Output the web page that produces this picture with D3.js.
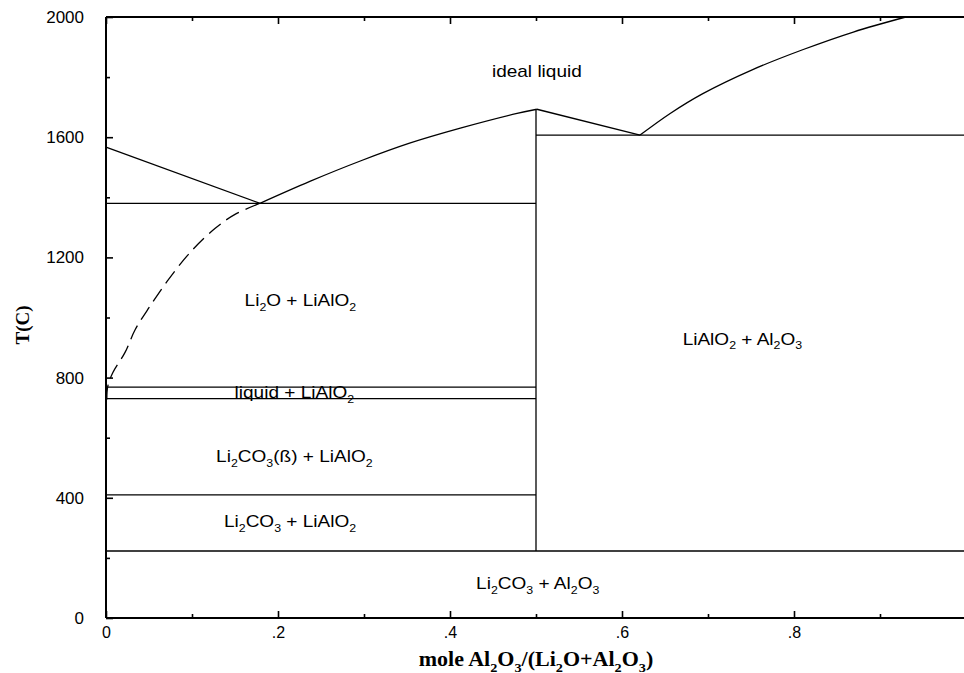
<!DOCTYPE html>
<head>
  <meta charset="utf-8">
  <script src="https://cdn.jsdelivr.net/npm/d3@7"></script>
  <style>
    body { margin: 0; background: #fff; }
    svg { display: block; }
  </style>
</head>
<body>
  <svg width="964" height="673"></svg>
  <script>
    // axis ticks
    const xMajor = [0, 0.2, 0.4, 0.6, 0.8];
    const xMajorLabels = ["0", ".2", ".4", ".6", ".8"];
    const xMinor = [0.1, 0.3, 0.5, 0.7, 0.9];
    const yMajor = [0, 400, 800, 1200, 1600, 2000];
    const yMinor = [200, 600, 1000, 1400, 1800];

    // phase boundaries [x, T]
    const liqLeft = [[0, 1567], [0.179, 1380]];
    const liqMid = [[0.179, 1380], [0.237, 1453], [0.295, 1520], [0.353, 1580], [0.412, 1630], [0.478, 1679], [0.501, 1693]];
    const liqDip = [[0.501, 1693], [0.621, 1607]];
    const liqRight = [[0.621, 1607], [0.656, 1679], [0.694, 1745], [0.752, 1825], [0.810, 1891], [0.869, 1950], [0.93, 2000]];
    const solubility = [[0.001, 727], [0.002, 770], [0.008, 817], [0.022, 883], [0.034, 960], [0.051, 1037], [0.071, 1120], [0.098, 1217], [0.127, 1297], [0.150, 1343], [0.179, 1380]];

    // isotherms: from x, to x, T
    const isoFrom = [0, 0.5, 0, 0, 0, 0];
    const isoTo = [0.5, 1, 0.5, 0.5, 0.5, 1];
    const isoT = [1380, 1607, 768, 730, 410, 223];
    // vertical line at LiAlO2
    const vertX = 0.5;
    const vertT = [223, 1693];

    // region labels ("_" marks a subscript char)
    const regionText = ["ideal liquid", "Li_2O + LiAlO_2", "LiAlO_2 + Al_2O_3", "liquid + LiAlO_2", "Li_2CO_3(ß) + LiAlO_2", "Li_2CO_3 + LiAlO_2", "Li_2CO_3 + Al_2O_3"];
    const regionX = [0.501, 0.226, 0.74, 0.219, 0.219, 0.214, 0.502];
    const regionT = [1800, 1037, 910, 733, 520, 303, 97];

    const width = 964, height = 673;
    const margin = {top: 17, bottom: 55, left: 106, right: -2};

    const x = d3.scaleLinear().domain([0, 1]).range([margin.left, width - margin.right]);
    const y = d3.scaleLinear().domain([0, 2000]).range([height - margin.bottom, margin.top]);

    const svg = d3.select('svg');
    const font = "'Liberation Sans', Arial, sans-serif";
    const serif = "'Liberation Serif', 'Times New Roman', serif";

    // text with subscripts, no empty tspans
    function richText(sel, str, size) {
      const parts = str.split(/(_.)/).filter(p => p);
      let shift = 0;
      parts.forEach(p => {
        const sub = p[0] === '_';
        const target = sub ? size * 0.28 : 0;
        sel.append('tspan')
          .attr('dy', target - shift)
          .attr('font-size', sub ? size * 0.65 : size)
          .text(sub ? p[1] : p);
        shift = target;
      });
    }

    // frame
    svg.append('g')
      .selectAll('line')
      .data([[0, 0, 0, 2000], [0, 0, 1, 0], [0, 2000, 1, 2000]])
      .join('line')
      .attr('x1', d => x(d[0])).attr('y1', d => y(d[1]))
      .attr('x2', d => x(d[2])).attr('y2', d => y(d[3]))
      .attr('stroke', '#000').attr('stroke-width', 2);

    // axes, ticks pointing in
    const xAxis = svg.append('g')
      .attr('transform', 'translate(0,' + y(0) + ')')
      .call(d3.axisBottom(x).tickValues(xMajor).tickSize(-7).tickPadding(9)
        .tickFormat((d, i) => xMajorLabels[i]));
    svg.append('g')
      .attr('transform', 'translate(0,' + y(0) + ')')
      .call(d3.axisBottom(x).tickValues(xMinor).tickSize(-4).tickFormat(''));
    svg.append('g')
      .attr('transform', 'translate(0,' + y(2000) + ')')
      .call(d3.axisTop(x).tickValues(xMajor).tickSize(-7).tickFormat(''));
    svg.append('g')
      .attr('transform', 'translate(0,' + y(2000) + ')')
      .call(d3.axisTop(x).tickValues(xMinor).tickSize(-4).tickFormat(''));
    const yAxis = svg.append('g')
      .attr('transform', 'translate(' + x(0) + ',0)')
      .call(d3.axisLeft(y).tickValues(yMajor).tickSize(-7).tickPadding(22).tickFormat(d3.format('d')));
    svg.append('g')
      .attr('transform', 'translate(' + x(0) + ',0)')
      .call(d3.axisLeft(y).tickValues(yMinor).tickSize(-4).tickFormat(''));

    svg.selectAll('.domain').remove();
    svg.selectAll('.tick line').attr('stroke', '#000').attr('stroke-width', 1.6);
    svg.selectAll('.tick text').attr('font-family', font).attr('fill', '#000');
    xAxis.selectAll('text').attr('font-size', 16);
    yAxis.selectAll('text').attr('font-size', 17);

    // phase lines
    const line = d3.line().x(d => x(d[0])).y(d => y(d[1]));
    const curve = d3.line().x(d => x(d[0])).y(d => y(d[1])).curve(d3.curveCatmullRom);

    svg.append('path').attr('d', line(liqLeft));
    svg.append('path').attr('d', curve(liqMid));
    svg.append('path').attr('d', line(liqDip));
    svg.append('path').attr('d', curve(liqRight));
    svg.append('path').attr('d', curve(solubility)).attr('stroke-dasharray', '15,7');

    isoT.forEach((t, i) => {
      svg.append('path').attr('d', line([[isoFrom[i], t], [isoTo[i], t]]));
    });
    svg.append('path').attr('d', line([[vertX, vertT[0]], [vertX, vertT[1]]]));

    svg.selectAll('path:not(.domain)')
      .attr('fill', 'none').attr('stroke', '#000').attr('stroke-width', 1.3);

    // region labels
    regionText.forEach((s, i) => {
      const t = svg.append('text')
        .attr('transform', 'translate(' + x(regionX[i]) + ',' + y(regionT[i]) + ') scale(1.12,1)')
        .attr('text-anchor', 'middle')
        .attr('font-family', font)
        .attr('font-size', 17)
        .attr('fill', '#000');
      richText(t, s, 17);
    });

    // axis titles
    const xt = svg.append('text')
      .attr('transform', 'translate(' + x(0.5) + ',666) scale(1.1,1)')
      .attr('text-anchor', 'middle')
      .attr('font-family', serif).attr('font-weight', 'bold').attr('font-size', 20);
    richText(xt, 'mole Al_2O_3/(Li_2O+Al_2O_3)', 20);

    svg.append('text')
      .attr('transform', 'translate(29,325) rotate(-90)')
      .attr('text-anchor', 'middle')
      .attr('font-family', serif).attr('font-weight', 'bold').attr('font-size', 19)
      .text('T(C)');
  </script>
</body>
